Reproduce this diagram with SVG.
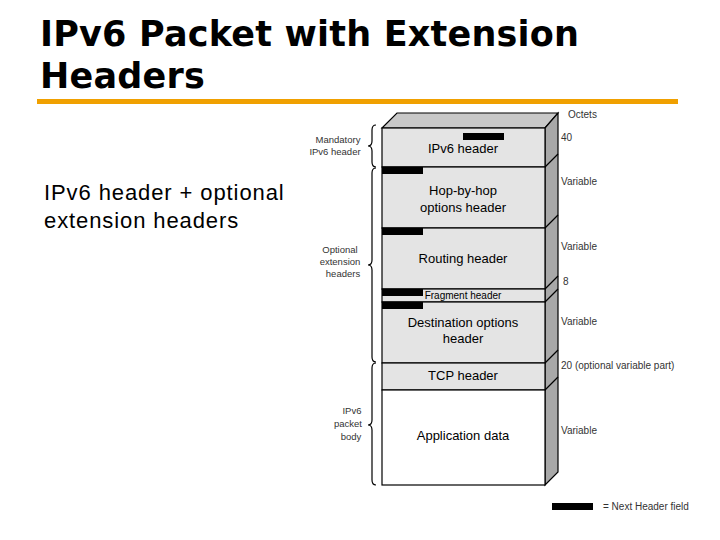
<svg xmlns="http://www.w3.org/2000/svg" width="720" height="540" viewBox="0 0 720 540">
<style>
.t{font-family:"Liberation Sans",Arial,sans-serif;fill:#000}
.h{font-size:13px;text-anchor:middle}
.s{font-size:10px;fill:#333}
.l{font-size:9.5px;text-anchor:middle;fill:#333}
.box{fill:#e4e4e4;stroke:#000;stroke-width:1.2}
.side{fill:#a8a8a8;stroke:#000;stroke-width:1.2}
.br{fill:none;stroke:#000;stroke-width:1.2}
.ti{font-family:"DejaVu Sans",sans-serif;font-size:35px;font-weight:bold;letter-spacing:0.2px;fill:#000}
</style>
<rect width="720" height="540" fill="#fff"/>
<text x="40" y="46" class="ti">IPv6 Packet with Extension</text>
<text x="40" y="88" class="ti">Headers</text>
<rect x="37" y="99" width="641" height="5" fill="#f0a000"/>
<text x="44" y="200" class="t" font-size="22" letter-spacing="0.9">IPv6 header + optional</text>
<text x="44" y="228" class="t" font-size="22" letter-spacing="0.9">extension headers</text>
<g id="packet">
<polygon points="382,128 397,113 558,113 545,128" fill="#c8c8c8" stroke="#000" stroke-width="1.2"/>
<polygon class="side" points="545,128 558,113 558,472 545,485"/>
<g class="br">
<path d="M545,167 L558,154"/><path d="M545,228 L558,215"/><path d="M545,289 L558,276"/><path d="M545,302 L558,289"/><path d="M545,363 L558,350"/><path d="M545,390 L558,377"/>
</g>
</g>
<g id="ipv6"><rect class="box" x="382" y="128" width="163" height="39"/><rect x="463" y="133" width="41" height="7"/><text class="t h" x="463" y="153">IPv6 header</text></g>
<g id="hop"><rect class="box" x="382" y="167" width="163" height="61"/><rect x="382" y="167" width="41" height="7"/><text class="t h" x="463" y="195">Hop-by-hop</text><text class="t h" x="463" y="212">options header</text></g>
<g id="routing"><rect class="box" x="382" y="228" width="163" height="61"/><rect x="382" y="228" width="41" height="7"/><text class="t h" x="463" y="263">Routing header</text></g>
<g id="fragment"><rect class="box" x="382" y="289" width="163" height="13"/><rect x="382" y="289" width="41" height="7"/><text class="t" x="463" y="299" font-size="10" text-anchor="middle">Fragment header</text></g>
<g id="dest"><rect class="box" x="382" y="302" width="163" height="61"/><rect x="382" y="302" width="41" height="7"/><text class="t h" x="463" y="327">Destination options</text><text class="t h" x="463" y="343">header</text></g>
<g id="tcp"><rect class="box" x="382" y="363" width="163" height="27"/><text class="t h" x="463" y="380">TCP header</text></g>
<g id="app"><rect x="382" y="390" width="163" height="95" fill="#fff" stroke="#000" stroke-width="1.2"/><text class="t h" x="463" y="440">Application data</text></g>
<g id="sizes">
<text class="t s" x="568" y="118">Octets</text>
<text class="t s" x="561" y="141">40</text>
<text class="t s" x="561" y="185">Variable</text>
<text class="t s" x="561" y="250">Variable</text>
<text class="t s" x="563" y="285">8</text>
<text class="t s" x="561" y="325">Variable</text>
<text class="t s" x="561" y="369">20 (optional variable part)</text>
<text class="t s" x="561" y="434">Variable</text>
</g>
<g id="braces" class="br">
<path d="M376,125 Q372,125 372,130 L372,141 Q372,146 368,146 Q372,146 372,151 L372,162 Q372,167 376,167"/>
<path d="M376,168 Q372,168 372,173 L372,260 Q372,265 368,265 Q372,265 372,270 L372,357 Q372,362 376,362"/>
<path d="M376,363 Q372,363 372,368 L372,420 Q372,425 368,425 Q372,425 372,430 L372,480 Q372,485 376,485"/>
</g>
<g id="labels">
<text class="t l" x="338" y="143">Mandatory</text><text class="t l" x="335" y="155">IPv6 header</text>
<text class="t l" x="340" y="253">Optional</text><text class="t l" x="340" y="265">extension</text><text class="t l" x="343" y="277">headers</text>
<text class="t l" x="352" y="414">IPv6</text><text class="t l" x="348" y="427">packet</text><text class="t l" x="351" y="440">body</text>
</g>
<g id="legend"><rect x="552" y="503" width="41" height="7"/><text class="t s" x="603" y="510">= Next Header field</text></g>
</svg>
